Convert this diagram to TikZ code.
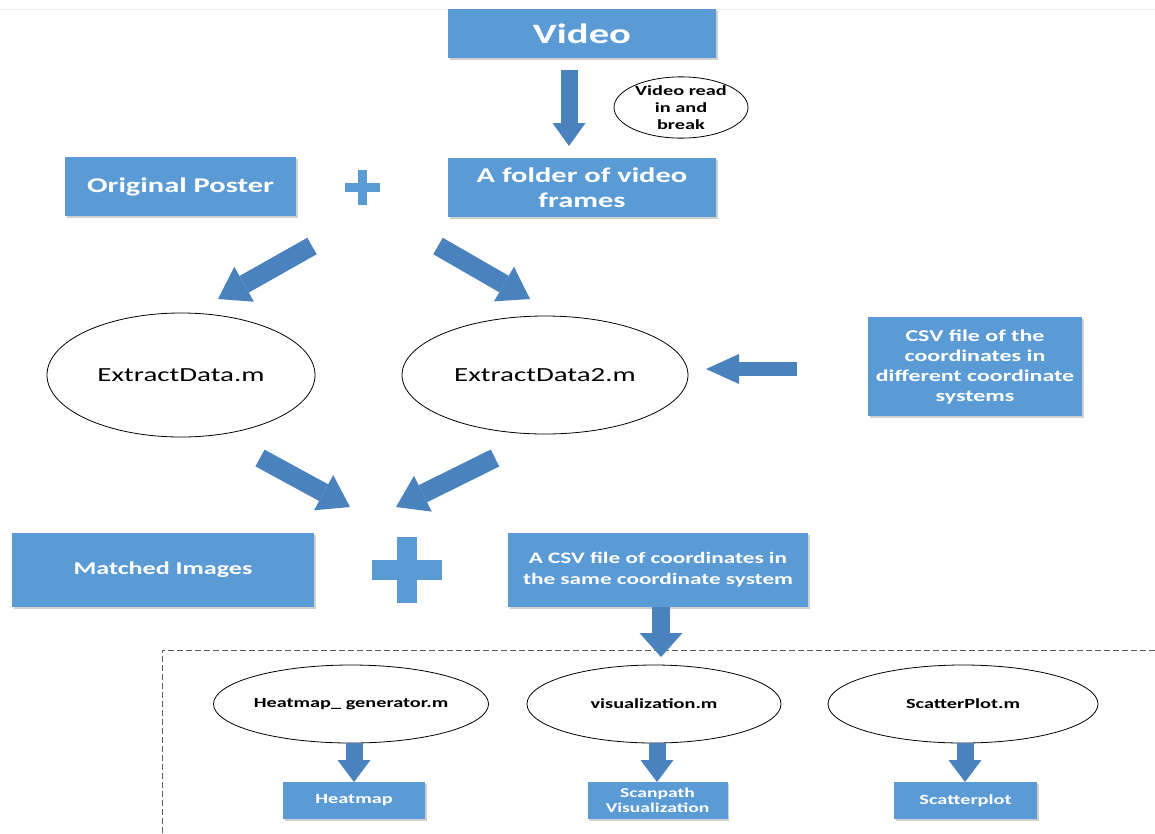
\documentclass[tikz,border=0pt]{standalone}
\usepackage{fontspec}
\setmainfont{Carlito}[FakeStretch=1.45]
\usetikzlibrary{arrows.meta,shapes.geometric,shadows}
\definecolor{boxblue}{RGB}{91,155,213}
\definecolor{arrblue}{RGB}{73,130,189}
\definecolor{dashgray}{RGB}{90,90,90}
\newcommand{\fsz}[2]{\fontsize{#1}{#2}\selectfont}
\begin{document}
\begin{tikzpicture}[x=1pt,y=-1pt,
  box/.style={rectangle, fill=boxblue, text=white, inner sep=0pt, align=center,
    font=\bfseries, drop shadow={shadow xshift=1.5pt, shadow yshift=-1.5pt, opacity=0.3, fill=black!60}},
  oval/.style={ellipse, draw=black, line width=0.8pt, fill=white, inner sep=0pt, align=center},
  plusbar/.style={fill=boxblue},
  arrA/.style={draw=arrblue, line width=17pt, -{Triangle[length=23pt,width=33pt,line width=0pt]}},
  arrD/.style={draw=arrblue, line width=19pt, -{Triangle[length=30pt,width=40pt,line width=0pt]}},
  arrH/.style={draw=arrblue, line width=14pt, -{Triangle[length=33pt,width=30pt,line width=0pt]}},
  arrC/.style={draw=arrblue, line width=18pt, -{Triangle[length=24pt,width=43pt,line width=0pt]}},
  arrS/.style={draw=arrblue, line width=17pt, -{Triangle[length=22pt,width=33pt,line width=0pt]}},
  frame/.style={draw=dashgray, line width=1pt, dash pattern=on 6pt off 3pt}
]
\useasboundingbox (0,0) rectangle (1155,833);
\fill[white] (0,0) rectangle (1155,833);
\draw[black!7, line width=1pt] (0,9) -- (1155,9);

% top boxes
\node[box, minimum width=268pt, minimum height=49pt, font=\bfseries\fsz{28}{32}] (video) at (582,33.5) {Video};
\node[box, minimum width=268pt, minimum height=59pt, font=\bfseries\fsz{21}{25}] (folder) at (582,187.5) {A folder of video\\frames};
\node[box, minimum width=231pt, minimum height=59pt, font=\bfseries\fsz{21}{25}] (poster) at (180.5,186.5) {Original Poster};
\node[oval, minimum width=134pt, minimum height=61pt, font=\bfseries\fsz{14}{16.7}] (readbreak) at (681,107.5) {Video read\\in and\\break};

% small plus
\fill[plusbar] (345,183) rectangle (380,192);
\fill[plusbar] (357.5,170) rectangle (366.5,205);

% middle ellipses
\node[oval, minimum width=268pt, minimum height=124pt, font=\fsz{20}{24}] (ed1) at (181,375) {ExtractData.m};
\node[oval, minimum width=286pt, minimum height=118pt, font=\fsz{20}{24}] (ed2) at (545,375) {ExtractData2.m};
\node[box, minimum width=214pt, minimum height=99pt, font=\bfseries\fsz{16.5}{20}] (csvdiff) at (975,366.5) {CSV file of the\\coordinates in\\different coordinate\\systems};

% lower boxes
\node[box, minimum width=302pt, minimum height=74pt, font=\bfseries\fsz{18}{22}] (matched) at (163,570) {Matched Images};
\node[box, minimum width=300pt, minimum height=74pt, font=\bfseries\fsz{16}{21}] (csvsame) at (658,570) {A CSV file of coordinates in\\the same coordinate system};

% big plus
\fill[plusbar] (372,560) rectangle (442,580);
\fill[plusbar] (397,537) rectangle (417,603);

% dashed frame
\draw[frame] (1155,650) -- (162,650) -- (162,833);

% bottom ellipses and boxes
\node[oval, minimum width=268pt, minimum height=78pt, font=\bfseries\fsz{14}{17}] (heatgen) at (351,704) {Heatmap\_ generator.m};
\node[oval, minimum width=254pt, minimum height=78pt, font=\bfseries\fsz{14}{17}] (visual) at (654,704) {visualization.m};
\node[oval, minimum width=270pt, minimum height=78pt, font=\bfseries\fsz{14}{17}] (scatgen) at (963,704) {ScatterPlot.m};
\node[box, minimum width=142pt, minimum height=37pt, font=\bfseries\fsz{14}{16}] (heatmap) at (354,800.5) {Heatmap};
\node[box, minimum width=140pt, minimum height=37pt, font=\bfseries\fsz{13.5}{15.5}] (scanpath) at (657.5,800.5) {Scanpath\\Visualization};
\node[box, minimum width=143pt, minimum height=37pt, font=\bfseries\fsz{14}{16}] (scatter) at (965.5,800.5) {Scatterplot};

% arrow coordinates
\coordinate (a1s) at (569,70);  \coordinate (a1e) at (569,146);
\coordinate (a2s) at (312,246); \coordinate (a2e) at (218,299);
\coordinate (a3s) at (438,246); \coordinate (a3e) at (530,299);
\coordinate (a4s) at (797,369); \coordinate (a4e) at (706,369);
\coordinate (a5s) at (260,458); \coordinate (a5e) at (350,507);
\coordinate (a6s) at (495,458); \coordinate (a6e) at (396,507);
\coordinate (a7s) at (661,607); \coordinate (a7e) at (661,657);
\coordinate (a8s) at (354,743); \coordinate (a8e) at (354,782);
\coordinate (a9s) at (657,743); \coordinate (a9e) at (657,782);
\coordinate (a10s) at (965,743); \coordinate (a10e) at (965,782);

\draw[arrA] (a1s) -- (a1e);
\draw[arrD] (a2s) -- (a2e);
\draw[arrD] (a3s) -- (a3e);
\draw[arrH] (a4s) -- (a4e);
\draw[arrD] (a5s) -- (a5e);
\draw[arrD] (a6s) -- (a6e);
\draw[arrC] (a7s) -- (a7e);
\draw[arrS] (a8s) -- (a8e);
\draw[arrS] (a9s) -- (a9e);
\draw[arrS] (a10s) -- (a10e);
\end{tikzpicture}
\end{document}
